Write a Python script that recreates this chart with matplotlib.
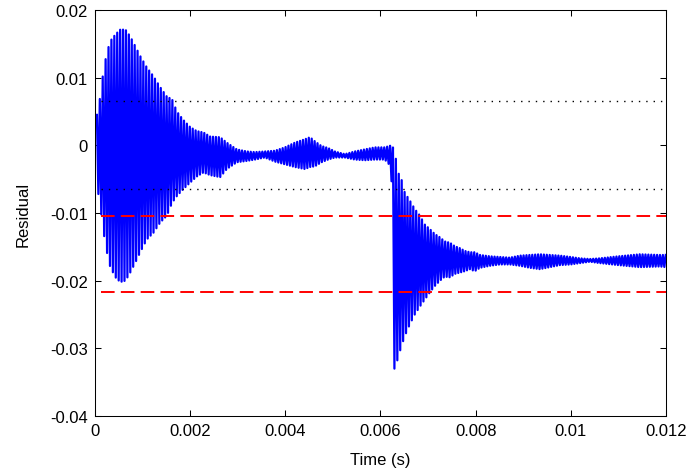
import matplotlib
matplotlib.use('Agg')
import matplotlib.pyplot as plt
import numpy as np

plt.rcParams['font.family'] = ['Liberation Sans', 'DejaVu Sans']

# residual envelope, time in ms
env_t = [0.00, 0.04, 0.11, 0.18, 0.25, 0.32, 0.43, 0.53, 0.64, 0.74, 0.85, 0.95,
         1.09, 1.23, 1.37, 1.51, 1.62, 1.72, 1.85, 2.00, 2.14, 2.28, 2.42, 2.63,
         2.77, 2.98, 3.19, 3.36, 3.57, 3.78, 3.99, 4.20, 4.41, 4.52, 4.62, 4.76,
         4.90, 5.04, 5.25, 5.46, 5.67, 5.88, 6.09, 6.23, 6.25, 6.30, 6.37, 6.44,
         6.51, 6.62, 6.72, 6.83, 6.93, 7.04, 7.14, 7.25, 7.35, 7.46, 7.56, 7.67,
         7.77, 7.88, 7.98, 8.09, 8.30, 8.51, 8.72, 8.93, 9.14, 9.35, 9.56, 9.77,
         10.0, 10.2, 10.4, 10.6, 11.0, 11.45, 11.87, 12.0]
env_hi = [0.0040, 0.0045, 0.0072, 0.0112, 0.0137, 0.0154, 0.0164, 0.0171, 0.0171, 0.0161, 0.0146, 0.0132,
          0.0115, 0.0102, 0.0086, 0.0072, 0.0068, 0.0050, 0.0038, 0.0027, 0.0021, 0.0019, 0.0013, 0.0012,
          0.0004, -0.0006, -0.0009, -0.0010, -0.0009, -0.0008, -0.0003, 0.0004, 0.0009, 0.0012, 0.0006, -0.0001,
          -0.0004, -0.0009, -0.0013, -0.0009, -0.0006, -0.0003, -0.0003, 0.0000, -0.0001, -0.0010, -0.0040, -0.0050,
          -0.0070, -0.0082, -0.0094, -0.0104, -0.0117, -0.0124, -0.0131, -0.0136, -0.0142, -0.0144, -0.0149, -0.0152,
          -0.0156, -0.0158, -0.0158, -0.0162, -0.0164, -0.0165, -0.0166, -0.0163, -0.0162, -0.0161, -0.0162, -0.0163,
          -0.0165, -0.0167, -0.0168, -0.0167, -0.0164, -0.0161, -0.0162, -0.0162]
env_lo = [-0.0050, -0.0058, -0.0090, -0.0129, -0.0158, -0.0180, -0.0195, -0.0202, -0.0200, -0.0188, -0.0173, -0.0158,
          -0.0139, -0.0129, -0.0114, -0.0104, -0.0085, -0.0075, -0.0065, -0.0055, -0.0046, -0.0040, -0.0044, -0.0047,
          -0.0035, -0.0025, -0.0023, -0.0021, -0.0018, -0.0024, -0.0028, -0.0032, -0.0035, -0.0032, -0.0031, -0.0025,
          -0.0021, -0.0018, -0.0018, -0.0021, -0.0022, -0.0021, -0.0021, -0.0032, -0.0313, -0.0333, -0.0313, -0.0297,
          -0.0282, -0.0264, -0.0250, -0.0238, -0.0228, -0.0217, -0.0208, -0.0200, -0.0194, -0.0195, -0.0190, -0.0188,
          -0.0186, -0.0183, -0.0186, -0.0181, -0.0178, -0.0176, -0.0176, -0.0178, -0.0181, -0.0183, -0.0180, -0.0177,
          -0.0176, -0.0174, -0.0172, -0.0174, -0.0177, -0.0180, -0.0179, -0.0180]

# detection thresholds
thr_t = [0.00013, 0.012]
dotted_levels = [0.0065, -0.0065]
dashed_levels = [-0.0104, -0.0217]

xticks = [0, 0.002, 0.004, 0.006, 0.008, 0.01, 0.012]
xticklabels = ['0', '0.002', '0.004', '0.006', '0.008', '0.01', '0.012']
yticks = [-0.04, -0.03, -0.02, -0.01, 0, 0.01, 0.02]
yticklabels = ['-0.04', '-0.03', '-0.02', '-0.01', '0', '0.01', '0.02']

# oscillation drawn as a zigzag between the two envelopes
half_period = 0.0000305
t = np.arange(0.00004, 0.012, half_period)
env_ts = np.array(env_t) * 1e-3
hi = np.interp(t, env_ts, env_hi)
lo = np.interp(t, env_ts, env_lo)
res = np.where(np.arange(len(t)) % 2 == 0, hi, lo)

fig = plt.figure(figsize=(6.91, 4.77), dpi=100)
ax = fig.add_axes([0.1375, 0.1258, 0.8263, 0.8511])

ax.plot(t, res, color='#0000ff', lw=1.6)
for lv in dotted_levels:
    ax.plot(thr_t, [lv, lv], color='k', lw=1.0, ls=(0, (1, 4.3)))
for lv in dashed_levels:
    ax.plot(thr_t, [lv, lv], color='#ff0000', lw=1.4, ls=(0, (7, 3.2)))

ax.set_xlim(0, 0.012)
ax.set_ylim(-0.04, 0.02)
ax.set_xticks(xticks)
ax.set_xticklabels(xticklabels)
ax.set_yticks(yticks)
ax.set_yticklabels(yticklabels)
ax.tick_params(direction='in', length=4.3, width=0.75, top=True, right=True,
               labelsize=12, pad=5)
for s in ax.spines.values():
    s.set_linewidth(0.75)
ax.set_xlabel('Time (s)', fontsize=12, labelpad=10)
ax.set_ylabel('Residual', fontsize=12, labelpad=14)

fig.savefig('out.png', dpi=100)
